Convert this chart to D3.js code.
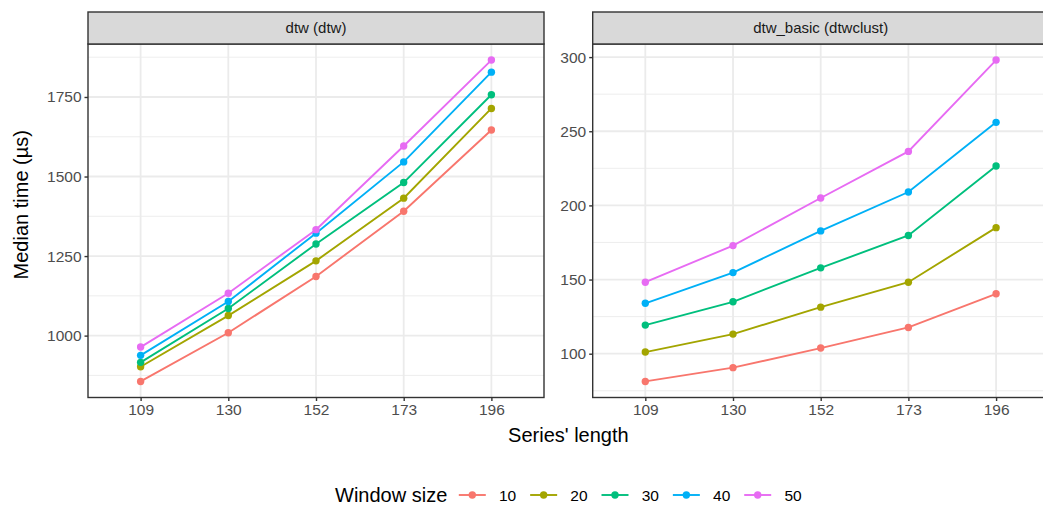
<!DOCTYPE html>
<html>
<head>
<meta charset="utf-8">
<script src="https://cdn.jsdelivr.net/npm/d3@7"></script>
<style>
  body { margin: 0; background: #fff; }
  svg { display: block; font-family: "Liberation Sans", Arial, sans-serif; }
</style>
</head>
<body>
<div id="chart"></div>
<script>
const width = 1043
const height = 506

// data
const seriesLengths = ["109", "130", "152", "173", "196"]
const windowSizes = [10, 20, 30, 40, 50]
const dtwTimes = {
  10: [856, 1009, 1186, 1391, 1646],
  20: [902, 1063, 1235, 1432, 1714],
  30: [916, 1085, 1288, 1481, 1757],
  40: [938, 1107, 1322, 1546, 1828],
  50: [964, 1133, 1333, 1596, 1866]
}
const dtwBasicTimes = {
  10: [81.3, 90.6, 103.8, 117.7, 140.4],
  20: [101.1, 113.2, 131.4, 148.2, 185],
  30: [119.3, 135, 157.9, 179.7, 226.6],
  40: [134, 154.7, 182.8, 209, 256],
  50: [148.2, 172.9, 205, 236.4, 298]
}
const dtwTicks = [1000, 1250, 1500, 1750]
const dtwBasicTicks = [100, 150, 200, 250, 300]
const colors = ["#F8766D", "#A3A500", "#00BF7D", "#00B0F6", "#E76BF3"]

const color = d3.scaleOrdinal().domain(windowSizes).range(colors)

const svg = d3.select("#chart").append("svg")
  .attr("width", width)
  .attr("height", height)

const stripTop = 12, panelTop = 44, panelBottom = 397.5

const panels = [
  {title: "dtw (dtw)", x0: 88, x1: 544, data: dtwTimes, ticks: dtwTicks},
  {title: "dtw_basic (dtwclust)", x0: 592.7, x1: 1048.7, data: dtwBasicTimes, ticks: dtwBasicTicks}
]

panels.forEach(p => {
  const x = d3.scalePoint().domain(seriesLengths).range([p.x0, p.x1]).padding(0.6)
  const all = windowSizes.flatMap(w => p.data[w])
  const [lo, hi] = d3.extent(all)
  const pad = (hi - lo) * 0.05
  const y = d3.scaleLinear().domain([lo - pad, hi + pad]).range([panelBottom, panelTop])

  const g = svg.append("g")

  // minor grid
  const step = p.ticks[1] - p.ticks[0]
  const minor = []
  for (let v = p.ticks[0] - step / 2; v <= hi + pad; v += step) {
    if (v >= lo - pad) minor.push(v)
  }
  g.selectAll(".minor").data(minor).enter().append("line")
    .attr("x1", p.x0).attr("x2", p.x1)
    .attr("y1", d => y(d)).attr("y2", d => y(d))
    .attr("stroke", "#EBEBEB").attr("stroke-width", 0.9)

  // major grid
  g.selectAll(".hmajor").data(p.ticks).enter().append("line")
    .attr("x1", p.x0).attr("x2", p.x1)
    .attr("y1", d => y(d)).attr("y2", d => y(d))
    .attr("stroke", "#EBEBEB").attr("stroke-width", 1.8)
  g.selectAll(".vmajor").data(seriesLengths).enter().append("line")
    .attr("x1", d => x(d)).attr("x2", d => x(d))
    .attr("y1", panelTop).attr("y2", panelBottom)
    .attr("stroke", "#EBEBEB").attr("stroke-width", 1.8)

  // lines and points
  const line = d3.line().x((d, i) => x(seriesLengths[i])).y(d => y(d))
  windowSizes.forEach(w => {
    g.append("path")
      .datum(p.data[w])
      .attr("d", line)
      .attr("fill", "none")
      .attr("stroke", color(w))
      .attr("stroke-width", 1.9)
    g.selectAll(".pt" + w).data(p.data[w]).enter().append("circle")
      .attr("cx", (d, i) => x(seriesLengths[i]))
      .attr("cy", d => y(d))
      .attr("r", 3.7)
      .attr("fill", color(w))
  })

  // panel border
  g.append("rect")
    .attr("x", p.x0).attr("y", panelTop)
    .attr("width", p.x1 - p.x0).attr("height", panelBottom - panelTop)
    .attr("fill", "none").attr("stroke", "#333333").attr("stroke-width", 1.4)

  // strip
  g.append("rect")
    .attr("x", p.x0).attr("y", stripTop)
    .attr("width", p.x1 - p.x0).attr("height", panelTop - stripTop)
    .attr("fill", "#D9D9D9").attr("stroke", "#333333").attr("stroke-width", 1.4)
  g.append("text")
    .attr("x", (p.x0 + p.x1) / 2).attr("y", (stripTop + panelTop) / 2)
    .attr("dy", "0.35em")
    .attr("text-anchor", "middle")
    .attr("font-size", 15)
    .attr("fill", "#1A1A1A")
    .text(p.title)

  // axes
  const yAxis = g.append("g")
    .attr("transform", `translate(${p.x0},0)`)
    .call(d3.axisLeft(y).tickValues(p.ticks).tickFormat(d3.format("d")).tickSize(3.5).tickPadding(3))
  const xAxis = g.append("g")
    .attr("transform", `translate(0,${panelBottom})`)
    .call(d3.axisBottom(x).tickSize(3.5).tickPadding(2.5))
  ;[yAxis, xAxis].forEach(a => {
    a.select(".domain").remove()
    a.selectAll(".tick line").attr("stroke", "#333333").attr("stroke-width", 1.4)
    a.selectAll(".tick text")
      .attr("fill", "#4D4D4D")
      .attr("font-size", 15.5)
      .attr("font-family", "Liberation Sans, Arial, sans-serif")
  })
})

// axis titles
svg.append("text")
  .attr("x", (88 + 1048.7) / 2).attr("y", 442)
  .attr("text-anchor", "middle")
  .attr("font-size", 20)
  .attr("fill", "#000")
  .text("Series' length")

svg.append("text")
  .attr("transform", `translate(27.5,${(stripTop + panelBottom) / 2}) rotate(-90)`)
  .attr("text-anchor", "middle")
  .attr("font-size", 20)
  .attr("fill", "#000")
  .text("Median time (µs)")

// legend
const legend = svg.append("g")
legend.append("text")
  .attr("x", 335).attr("y", 502)
  .attr("font-size", 20)
  .attr("fill", "#000")
  .text("Window size")

const legendX = d3.scalePoint().domain(windowSizes).range([472.3, 757.7])
const keys = legend.selectAll(".key").data(windowSizes).enter().append("g")
  .attr("transform", d => `translate(${legendX(d)},495)`)
keys.append("line")
  .attr("x1", -13.5).attr("x2", 13.5)
  .attr("stroke", d => color(d)).attr("stroke-width", 1.9)
keys.append("circle")
  .attr("r", 3.7)
  .attr("fill", d => color(d))
keys.append("text")
  .attr("x", 26.7).attr("y", 5.5)
  .attr("font-size", 15.5)
  .attr("fill", "#000")
  .text(d => d)
</script>
</body>
</html>
